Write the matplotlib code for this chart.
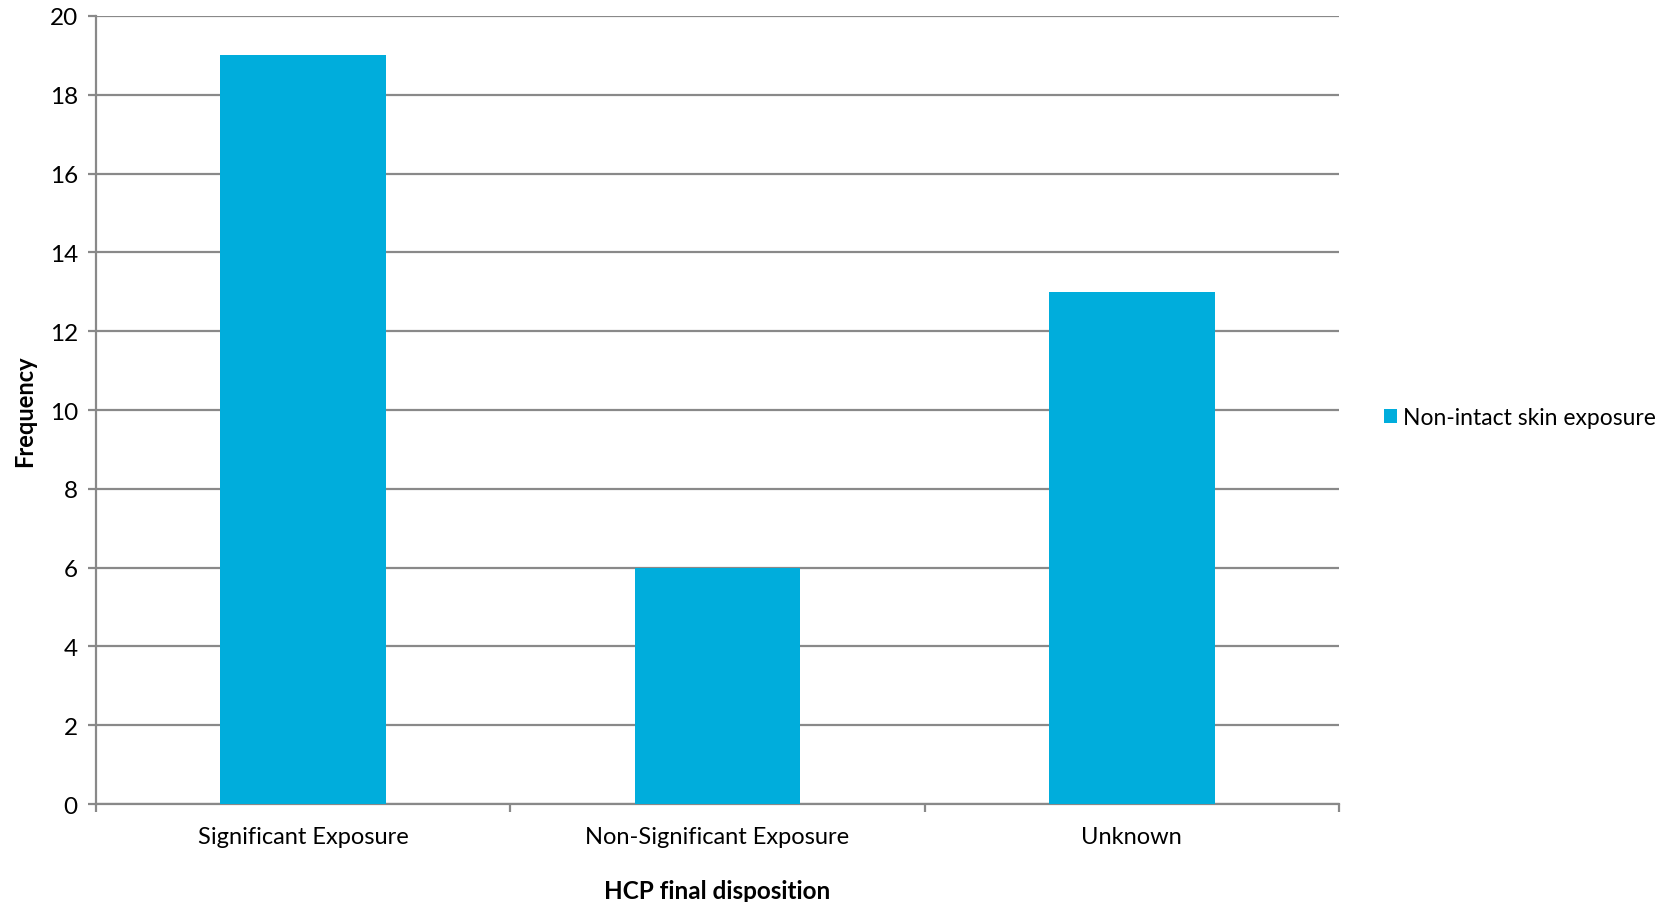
import matplotlib.pyplot as plt

categories = ["Significant Exposure", "Non-Significant Exposure", "Unknown"]
frequency = [19, 6, 13]
series_name = "Non-intact skin exposure"
y_ticks = [0, 2, 4, 6, 8, 10, 12, 14, 16, 18, 20]

plt.rcParams['font.family'] = ['Lato', 'DejaVu Sans']

fig = plt.figure(figsize=(16.8, 9.03), dpi=100)
ax = fig.add_axes([0.0571, 0.1085, 0.7399, 0.8727])

grid_color = "#898989"
bar_color = "#00ADDC"

x = list(range(len(categories)))
ax.bar(x, frequency, width=0.4, color=bar_color, label=series_name, zorder=3)

ax.set_xlim(-0.5, len(categories) - 0.5)
ax.set_ylim(0, 20)
ax.set_yticks(y_ticks)
ax.yaxis.grid(True, color=grid_color, linewidth=1.6, zorder=0)

# category labels centered, tick marks at the boundaries
ax.set_xticks(x)
ax.set_xticklabels(categories, fontsize=17)
ax.set_xticks([i - 0.5 for i in range(len(categories) + 1)], minor=True)
ax.tick_params(axis='x', which='major', length=0, pad=16)
ax.tick_params(axis='x', which='minor', length=6, width=1.6, color=grid_color)
ax.tick_params(axis='y', length=6, width=1.6, color=grid_color, labelsize=17.5, pad=7)

for side in ("top", "right"):
    ax.spines[side].set_visible(False)
for side in ("left", "bottom"):
    ax.spines[side].set_color(grid_color)
    ax.spines[side].set_linewidth(1.6)

ax.set_xlabel("HCP final disposition", fontsize=17.5, fontweight='bold', labelpad=23)
ax.set_ylabel("Frequency", fontsize=17, fontweight='bold', labelpad=10)

ax.legend(loc='center left', bbox_to_anchor=(1.02, 0.49), frameon=False,
          fontsize=16.5, handlelength=0.55, handleheight=0.55, handletextpad=0.25)

fig.savefig("out.png", dpi=100)
